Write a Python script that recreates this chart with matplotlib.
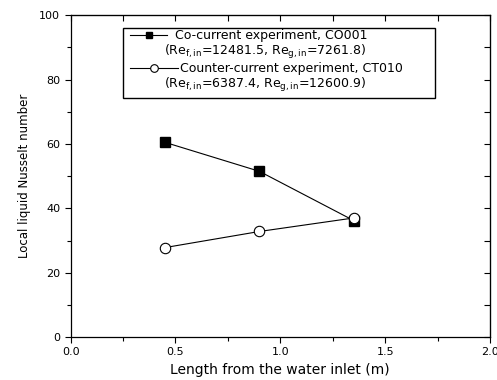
import matplotlib
matplotlib.use("Agg")
import matplotlib.pyplot as plt
from matplotlib.lines import Line2D
from matplotlib.patches import Rectangle
from matplotlib.ticker import MultipleLocator

# ------- DATA -------
length_m = [0.45, 0.90, 1.35]
nu_co001 = [60.5, 51.5, 36.2]
nu_ct010 = [27.8, 32.8, 37.0]

co_label = ["Co-current experiment, CO001",
            r"(Re$_{\mathrm{f,in}}$=12481.5, Re$_{\mathrm{g,in}}$=7261.8)"]
ct_label = ["Counter-current experiment, CT010",
            r"(Re$_{\mathrm{f,in}}$=6387.4, Re$_{\mathrm{g,in}}$=12600.9)"]

plt.rcParams["font.family"] = "DejaVu Sans"
plt.rcParams["mathtext.fontset"] = "dejavusans"

fig = plt.figure(figsize=(4.97, 3.8), dpi=100)
ax = fig.add_axes([0.142, 0.113, 0.844, 0.847])

# ------- CURVES -------
ax.plot(length_m, nu_co001, color="black", lw=0.8, marker="s", ms=7,
        mfc="black", mec="black")
ax.plot(length_m, nu_ct010, color="black", lw=0.8, marker="o", ms=7.5,
        mfc="white", mec="black", mew=0.8)

ax.set_xlim(0, 2.0)
ax.set_ylim(0, 100)
ax.xaxis.set_major_locator(MultipleLocator(0.5))
ax.xaxis.set_minor_locator(MultipleLocator(0.25))
ax.yaxis.set_major_locator(MultipleLocator(20))
ax.yaxis.set_minor_locator(MultipleLocator(10))
ax.xaxis.set_major_formatter(plt.FuncFormatter(lambda v, p: "%.1f" % v))
ax.tick_params(which="both", direction="out", labelsize=8, width=0.8)
ax.tick_params(which="major", length=4)
ax.tick_params(which="minor", length=3)
for s in ax.spines.values():
    s.set_linewidth(0.9)

# mirrored ticks on top / right, pointing inward
top = ax.secondary_xaxis("top")
top.xaxis.set_major_locator(MultipleLocator(0.25))
top.tick_params(direction="in", length=4, width=0.8, labeltop=False)
right = ax.secondary_yaxis("right")
right.yaxis.set_major_locator(MultipleLocator(10))
right.tick_params(direction="in", length=4, width=0.8, labelright=False)

ax.set_xlabel("Length from the water inlet (m)", fontsize=10, labelpad=4)
ax.set_ylabel("Local liquid Nusselt number", fontsize=8.5, labelpad=6)

# ------- LEGEND BOX (Origin style) -------
ax.add_patch(Rectangle((0.125, 0.742), 0.744, 0.218, transform=ax.transAxes,
                       fill=False, lw=1.0, ec="black", zorder=5))
ax.add_line(Line2D([0.141, 0.230], [0.938, 0.938], transform=ax.transAxes,
                   color="black", lw=0.8))
ax.add_line(Line2D([0.186], [0.938], transform=ax.transAxes, color="black",
                   marker="s", ms=5, mfc="black", lw=0))
ax.add_line(Line2D([0.141, 0.255], [0.835, 0.835],
                   transform=ax.transAxes, color="black", lw=0.8))
ax.add_line(Line2D([0.198], [0.835], transform=ax.transAxes, color="black",
                   marker="o", ms=5.5, mfc="white", mew=0.8, lw=0))
ax.text(0.249, 0.938, co_label[0], transform=ax.transAxes, fontsize=9,
        va="center", ha="left")
ax.text(0.222, 0.885, co_label[1], transform=ax.transAxes, fontsize=9,
        va="center", ha="left")
ax.text(0.262, 0.835, ct_label[0], transform=ax.transAxes, fontsize=9,
        va="center", ha="left")
ax.text(0.222, 0.783, ct_label[1], transform=ax.transAxes, fontsize=9,
        va="center", ha="left")

fig.savefig("out.png", dpi=100)
